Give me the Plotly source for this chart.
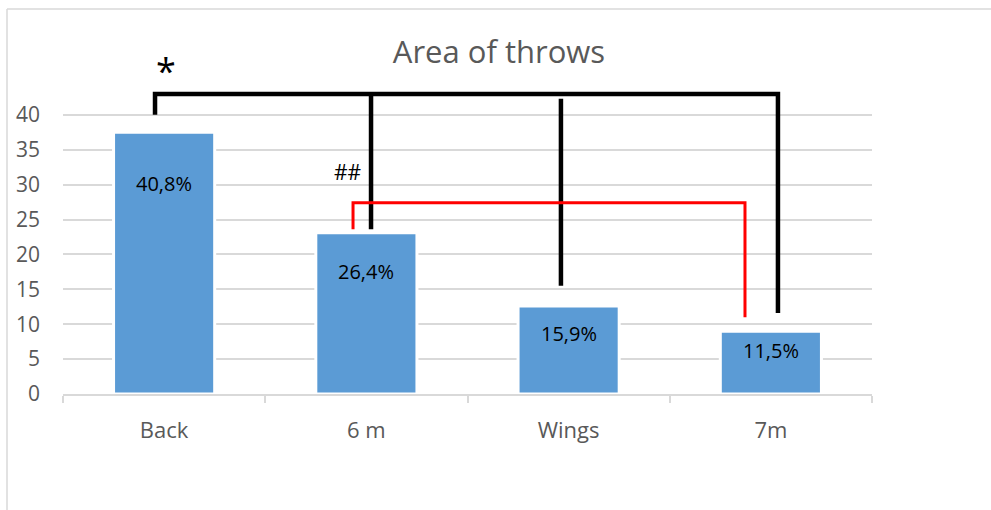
import plotly.graph_objects as go

# ---- data ----
categories = ["Back", "6 m", "Wings", "7m"]
values = [37.5, 23.1, 12.6, 9.0]
pct_labels = ["40,8%", "26,4%", "15,9%", "11,5%"]
y_ticks = [0, 5, 10, 15, 20, 25, 30, 35, 40]

# ---- layout positions (not data) ----
label_y = [30.2, 17.5, 8.7, 6.3]
x_pos = list(range(len(categories)))

# significance brackets in data units (x in category index units)
black_paths = [
    [(-0.045, 40.0), (-0.045, 43.0), (3.035, 43.0), (3.035, 11.6)],
    [(1.023, 43.0), (1.023, 23.6)],
    [(1.962, 42.3), (1.962, 15.5)],
]
red_paths = [
    [(0.934, 23.6), (0.934, 27.4), (2.872, 27.4), (2.872, 11.0)],
]

fig = go.Figure()
fig.add_trace(go.Bar(
    x=x_pos, y=values, width=0.5,
    marker=dict(color="#5b9bd5", line=dict(color="white", width=3)),
    hoverinfo="skip", showlegend=False,
))

for paths, color, w in [(black_paths, "black", 4.5), (red_paths, "#ff0000", 3)]:
    for p in paths:
        fig.add_trace(go.Scatter(
            x=[q[0] for q in p], y=[q[1] for q in p], mode="lines",
            line=dict(color=color, width=w), showlegend=False,
            hoverinfo="skip", cliponaxis=False,
        ))

annotations = []
for xi, yl, t in zip(x_pos, label_y, pct_labels):
    annotations.append(dict(x=xi, y=yl, text=t, showarrow=False,
                            font=dict(family="Open Sans", size=20, color="black"),
                            xref="x", yref="y"))
annotations.append(dict(x=0.01, y=46.3, text="*", showarrow=False,
                        font=dict(family="Open Sans", size=36, color="black"),
                        xref="x", yref="y"))
annotations.append(dict(x=0.909, y=31.8, text="##", showarrow=False,
                        font=dict(family="Open Sans", size=21, color="black"),
                        xref="x", yref="y"))

# outer frame (light gray), partially visible
L, T, B = 63, 59, 394
W = 872 - 63
H = B - T
def px_x(px):
    return (px - L) / W
def px_y(py):
    return (B - py) / H

shapes = [
    dict(type="line", xref="paper", yref="paper", x0=px_x(7), x1=px_x(7),
         y0=px_y(9), y1=px_y(512), line=dict(color="#d9d9d9", width=1.5)),
    dict(type="line", xref="paper", yref="paper", x0=px_x(7), x1=px_x(995),
         y0=px_y(9), y1=px_y(9), line=dict(color="#d9d9d9", width=1.5)),
]

fig.update_layout(
    width=991, height=510,
    margin=dict(l=L, r=991 - 872, t=T, b=510 - B),
    paper_bgcolor="white", plot_bgcolor="white",
    title=dict(text="Area of throws", x=0.5035, xref="container", y=1 - 52 / 510,
               yanchor="middle", xanchor="center",
               font=dict(family="Open Sans", size=31, color="#595959")),
    font=dict(family="Open Sans", color="#595959"),
    xaxis=dict(range=[-0.5, 3.5], tickmode="array", tickvals=x_pos, ticktext=categories,
               showgrid=False, zeroline=False, showline=True, linecolor="#d9d9d9",
               linewidth=1.5, ticks="", ticklabelstandoff=16,
               tickfont=dict(family="Open Sans", size=22, color="#595959"),
               minor=dict(tickmode="array", tickvals=[-0.5, 0.5, 1.5, 2.5, 3.5],
                          ticks="outside", ticklen=7, tickcolor="#d9d9d9",
                          tickwidth=1.5, showgrid=False)),
    yaxis=dict(range=[0, 48], tickmode="array", tickvals=y_ticks,
               showgrid=True, gridcolor="#d9d9d9", gridwidth=1.5,
               zeroline=False, showline=False, ticks="", ticklabelstandoff=22,
               tickfont=dict(family="Open Sans", size=21, color="#595959")),
    annotations=annotations,
    shapes=shapes,
    bargap=0.5,
)

fig.write_html("out.html",
               config={"displayModeBar": False},
               post_script="document.body.style.margin='0px';document.body.style.overflow='hidden';")
